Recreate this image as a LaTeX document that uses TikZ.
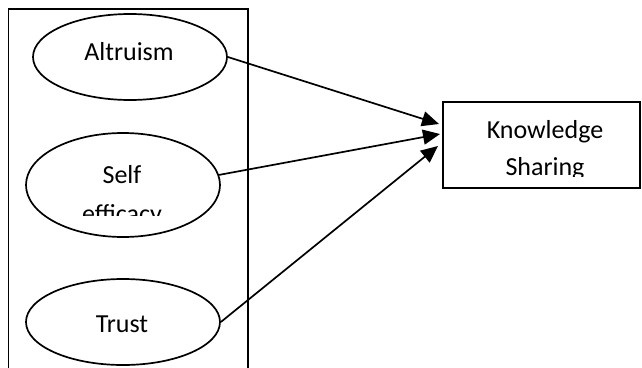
\documentclass[tikz,border=0pt]{standalone}
\usepackage{fontspec}
\setmainfont{Carlito}
\usetikzlibrary{shapes.geometric,arrows.meta}
\begin{document}
\begin{tikzpicture}[x=1pt,y=-1pt,
  line/.style={line width=1.7pt},
  oval/.style={ellipse,draw,line width=1.7pt,inner sep=0pt},
  lbl/.style={font=\fontsize{26}{31}\selectfont,anchor=base,inner sep=0pt},
  conn/.style={line width=1.7pt,-{Triangle[length=17pt,width=15pt]}}]
\useasboundingbox (0,0) rectangle (642,367);
\clip (0,0) rectangle (642,367);
\fill[white] (0,0) rectangle (642,367);
% outer frame, open at the bottom
\draw[line] (8.5,380) -- (8.5,9) -- (248,9) -- (248,380);
% ellipses
\node[oval,minimum width=194pt,minimum height=86pt] (alt) at (130,57) {};
\node[oval,minimum width=194pt,minimum height=104pt] (self) at (123,185) {};
\node[oval,minimum width=194pt,minimum height=86pt] (trust) at (123,322) {};
% box
\node[draw,line width=1.7pt,minimum width=197pt,minimum height=86pt,inner sep=0pt] (ks) at (541.5,145) {};
% texts
\node[lbl] (altT) at (129,60) {Altruism};
\node[lbl] (selfT) at (122,183) {Self};
\begin{scope}
\clip (20,150) rectangle (240,215);
\node[lbl] (effT) at (122,222) {efficacy};
\end{scope}
\node[lbl] (trustT) at (122,332) {Trust};
\node[lbl] (knowT) at (545,138) {Knowledge};
\begin{scope}
\clip (450,140) rectangle (640,176);
\node[lbl] (sharT) at (545,175) {Sharing};
\end{scope}
% arrow ends
\coordinate (t1) at (439,124);
\coordinate (t2) at (440,134);
\coordinate (t3) at (438,146);
\draw[conn] (alt.east) -- (t1);
\draw[conn] (self.6) -- (t2);
\draw[conn] (trust.east) -- (t3);
\end{tikzpicture}
\end{document}
